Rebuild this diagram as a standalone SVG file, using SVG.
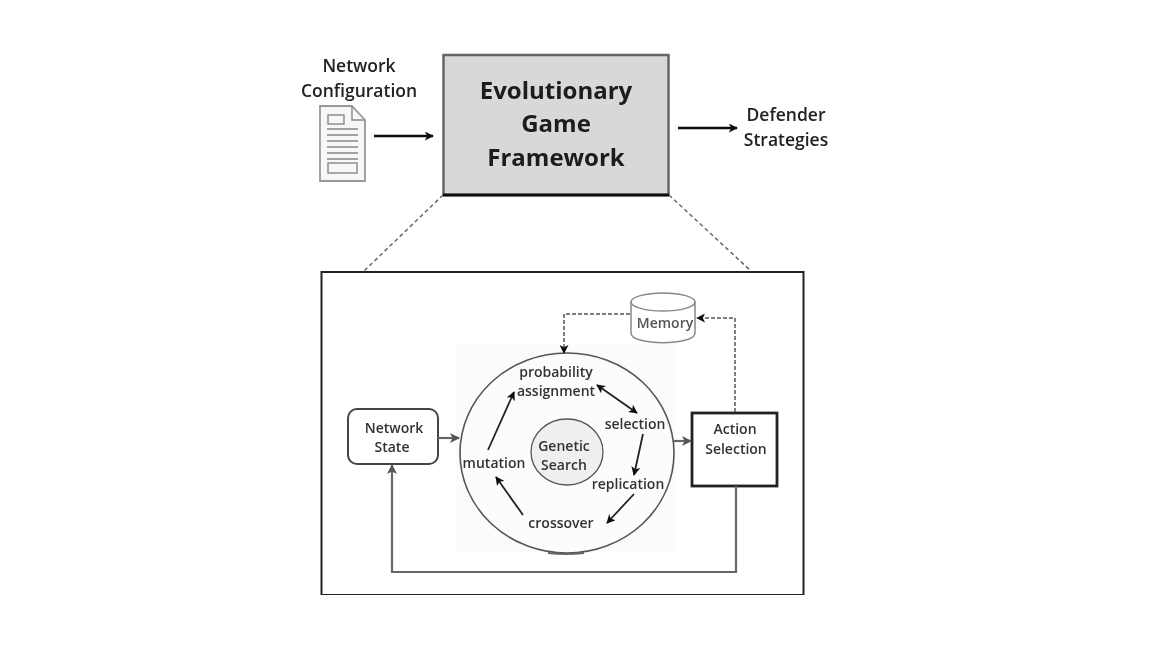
<svg xmlns="http://www.w3.org/2000/svg" width="1152" height="648" viewBox="0 0 1152 648">
<defs>
<filter id="soft" x="0" y="0" width="100%" height="100%"><feGaussianBlur stdDeviation="0.5"/></filter>
<marker id="a" viewBox="0 0 10 10" refX="9" refY="5" markerWidth="9" markerHeight="9" markerUnits="userSpaceOnUse" orient="auto"><path d="M0 0L10 5L0 10L2.500 5Z" fill="#111"/></marker>
<marker id="s" viewBox="0 0 10 10" refX="1" refY="5" markerWidth="9" markerHeight="9" markerUnits="userSpaceOnUse" orient="auto"><path d="M10 0L0 5L10 10L7.500 5Z" fill="#111"/></marker>
<marker id="g" viewBox="0 0 10 10" refX="9" refY="5" markerWidth="10" markerHeight="10" markerUnits="userSpaceOnUse" orient="auto"><path d="M0 0L10 5L0 10L2.500 5Z" fill="#555"/></marker>
</defs>
<style>
text{font-family:"Open Sans","Liberation Sans",sans-serif;text-anchor:middle;fill:#222;font-weight:600}
.big{font-size:24px;font-weight:700;fill:#1a1a1a}
.lab{font-size:17.500px}
.sm{font-size:14px;fill:#333}
.blk{fill:none;stroke:#111;stroke-width:2.400;marker-end:url(#a)}
.thin{fill:none;stroke:#222;stroke-width:1.800;marker-end:url(#a)}
.gr{fill:none;stroke:#666;stroke-width:2.200;marker-end:url(#g)}
.dash{fill:none;stroke:#555;stroke-width:1.500;stroke-dasharray:4 2;marker-end:url(#a)}
.zoom{fill:none;stroke:#666;stroke-width:1.500;stroke-dasharray:4 3}
.doc{fill:none;stroke:#888;stroke-width:1.400}
</style>
<rect width="1152" height="648" fill="#fff"/>
<g filter="url(#soft)">
<g id="connectors">
<path class="zoom" d="M443 195L364 271"/>
<path class="zoom" d="M669 195L751 271"/>
<path class="blk" d="M374 136H433"/>
<path class="blk" d="M678 128H737"/>
</g>
<g id="detail-frame"><rect x="321.500" y="272" width="482" height="323" fill="#fff" stroke="#222" stroke-width="2"/></g>
<rect x="455" y="345" width="220" height="208" fill="#fbfbfb"/>
<g id="network-configuration">
<text class="lab" x="359" y="72">Network</text>
<text class="lab" x="359" y="97">Configuration</text>
<path d="M320 106H352L365 120V181H320Z" fill="#f7f7f7" stroke="#999" stroke-width="1.800"/>
<path class="doc" d="M352 106V120H365"/>
<rect class="doc" x="328" y="115" width="16" height="9"/>
<path class="doc" d="M327 129H358M327 135H358M327 141H358M327 147H358M327 153H358M327 159H358"/>
<rect class="doc" x="328" y="163" width="29" height="10"/>
</g>
<g id="evolutionary-game-framework">
<rect x="443.500" y="55" width="225" height="140" fill="#d8d8d8" stroke="#666" stroke-width="2.500"/>
<path d="M443 195H669" stroke="#111" stroke-width="3"/>
<text class="big" x="556" y="99">Evolutionary</text>
<text class="big" x="556" y="132">Game</text>
<text class="big" x="556" y="166">Framework</text>
</g>
<g id="defender-strategies">
<text class="lab" x="786" y="121">Defender</text>
<text class="lab" x="786" y="146">Strategies</text>
</g>
<g id="memory">
<path d="M631 302V333C631 346 695 346 695 333V302" fill="#fff" stroke="#888" stroke-width="1.500"/>
<ellipse cx="663" cy="302" rx="32" ry="9" fill="#fff" stroke="#888" stroke-width="1.500"/>
<text class="sm" x="665" y="328" style="fill:#555">Memory</text>
</g>
<g id="genetic-search-ring">
<ellipse cx="567" cy="453" rx="107" ry="100" fill="#fcfcfc" stroke="#555" stroke-width="1.600"/>
<path d="M548 553Q566 555 584 553" fill="none" stroke="#666" stroke-width="2"/>
</g>
<g id="genetic-search">
<ellipse cx="567" cy="452" rx="36" ry="33" fill="#efefef" stroke="#555" stroke-width="1.300"/>
<text class="sm" x="564" y="451">Genetic</text>
<text class="sm" x="564" y="470">Search</text>
</g>
<g id="network-state">
<rect x="348" y="409" width="90" height="55" rx="9" fill="#fff" stroke="#444" stroke-width="2"/>
<text class="sm" x="394" y="433">Network</text>
<text class="sm" x="392" y="452">State</text>
</g>
<g id="action-selection">
<rect x="692" y="413" width="85" height="73" fill="#fff" stroke="#222" stroke-width="2.800"/>
<text class="sm" x="735" y="434">Action</text>
<text class="sm" x="736" y="454">Selection</text>
</g>
<g id="stages">
<text class="sm" x="556" y="377">probability</text>
<text class="sm" x="556" y="396">assignment</text>
<text class="sm" x="635" y="429">selection</text>
<text class="sm" x="628" y="489">replication</text>
<text class="sm" x="561" y="528">crossover</text>
<text class="sm" x="494" y="468">mutation</text>
</g>
<g id="loop-connectors">
<path class="gr" d="M438 438H459"/>
<path class="gr" d="M674 441H691"/>
<path class="gr" d="M736 486V572H392V465"/>
<path class="dash" d="M735 412V318H697"/>
<path class="dash" d="M630 314H564V353"/>
<path class="thin" style="marker-start:url(#s)" d="M597 385L637 413"/>
<path class="thin" d="M643 434L634 475"/>
<path class="thin" d="M634 494L607 523"/>
<path class="thin" d="M523 515L496 477"/>
<path class="thin" d="M488 450L514 392"/>
</g>
</g>
</svg>
